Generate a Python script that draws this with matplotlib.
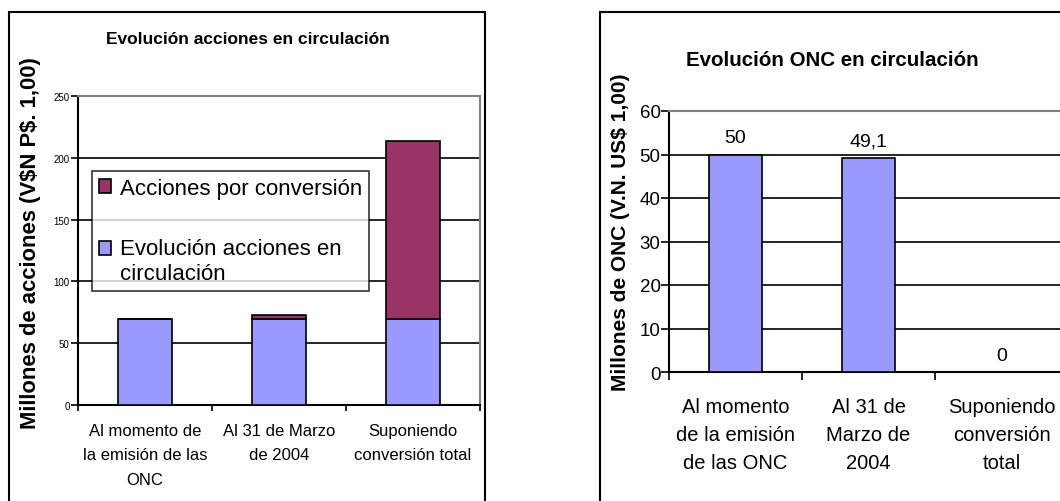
import numpy as np
import matplotlib.pyplot as plt
from matplotlib.patches import Rectangle

plt.rcParams['font.family'] = ['Liberation Sans', 'DejaVu Sans']
plt.rcParams['text.parse_math'] = False

# left chart data
categories_left = ["Al momento de\nla emisión de las\nONC", "Al 31 de Marzo\nde 2004", "Suponiendo\nconversión total"]
acciones_circ = [69.5, 69.5, 69.5]
acciones_conv = [0, 3.5, 144]

# right chart data
categories_right = ["Al momento\nde la emisión\nde las ONC", "Al 31 de\nMarzo de\n2004", "Suponiendo\nconversión\ntotal"]
onc_circ = [50, 49.1]
onc_labels = ["50", "49,1", "0"]

blue = '#9999FF'
purple = '#993366'

W, H = 1060, 502
fig = plt.figure(figsize=(W / 100, H / 100), dpi=100)

def px_axes(x0, y0, x1, y1):
    return fig.add_axes([x0 / W, 1 - y1 / H, (x1 - x0) / W, (y1 - y0) / H])

# outer chart frames
fig.patches.append(Rectangle((9 / W, -0.1), (485 - 9) / W, 1.1 - 13 / H, transform=fig.transFigure,
                             fill=False, edgecolor='black', linewidth=1.5))
fig.patches.append(Rectangle((600 / W, -0.1), 0.5, 1.1 - 13 / H, transform=fig.transFigure,
                             fill=False, edgecolor='black', linewidth=1.5))

# ---- left chart ----
ax1 = px_axes(78, 97, 480, 406)
x = np.arange(len(categories_left))
ax1.bar(x, acciones_circ, width=0.4, color=blue, edgecolor='black', linewidth=1.2,
        label="Evolución acciones en\ncirculación", zorder=3)
ax1.bar(x, acciones_conv, width=0.4, bottom=acciones_circ, color=purple, edgecolor='black',
        linewidth=1.2, label="Acciones por conversión", zorder=3)
ax1.set_xlim(-0.5, 2.5)
ax1.set_ylim(0, 250)
ax1.set_yticks([0, 50, 100, 150, 200, 250])
ax1.yaxis.grid(True, color='black', linewidth=1.2, zorder=0)
ax1.set_xticks([-0.5, 0.5, 1.5, 2.5])
ax1.set_xticklabels([])
ax1.tick_params(axis='x', direction='out', length=4, width=1.2)
ax1.tick_params(axis='y', labelsize=7, length=5, width=1.2, direction='out', pad=1)
for i, lab in enumerate(categories_left):
    ax1.text(i, -14.5, lab, ha='center', va='top', fontsize=12, linespacing=1.78)
for s in ['top', 'right']:
    ax1.spines[s].set_color('#808080')
    ax1.spines[s].set_linewidth(1.5)
for s in ['left', 'bottom']:
    ax1.spines[s].set_linewidth(1.5)
h, l = ax1.get_legend_handles_labels()
leg = ax1.legend(h[::-1], l[::-1], loc='upper left', bbox_to_anchor=(0.035, 0.757), fontsize=16,
                 frameon=True, fancybox=False, edgecolor='black', handlelength=0.55, handleheight=0.55,
                 handletextpad=0.4, labelspacing=1.75, borderpad=0.3, borderaxespad=0)
leg.get_frame().set_linewidth(1.2)
leg.set_zorder(5)
leg.get_texts()[1].set_linespacing(1.3)
# put the square beside the first line of the two-line label
hb = leg.legend_handles[1]
hb.set_y(hb.get_y() + 9.5)
fig.text(248 / W, 1 - 40 / H, "Evolución acciones en circulación", ha='center', va='center',
         fontsize=12.5, fontweight='bold')
fig.text(31 / W, 1 - 243 / H, "Millones de acciones (V$N P$. 1,00)", ha='center', va='center',
         rotation=90, fontsize=15.8, fontweight='bold')

# ---- right chart ----
ax2 = px_axes(669, 112, 1068, 373)
x2 = np.arange(len(onc_circ))
ax2.bar(x2, onc_circ, width=0.4, color=blue, edgecolor='black', linewidth=1.2, zorder=3)
vals = onc_circ + [0]
for i, (v, t) in enumerate(zip(vals, onc_labels)):
    ax2.text(i, v + 3.9, t, ha='center', va='center', fontsize=14)
ax2.set_xlim(-0.5, 2.5)
ax2.set_ylim(0, 60)
ax2.set_yticks([0, 10, 20, 30, 40, 50, 60])
ax2.yaxis.grid(True, color='black', linewidth=1.2, zorder=0)
ax2.set_xticks([-0.5, 0.5, 1.5, 2.5])
ax2.set_xticklabels([])
ax2.tick_params(axis='x', direction='out', length=6, width=1.2)
ax2.tick_params(axis='y', labelsize=13.5, length=6, width=1.2, direction='out', pad=0)
for i, lab in enumerate(categories_right):
    ax2.text(i, -5.7, lab, ha='center', va='top', fontsize=14.5, linespacing=1.62)
for s in ['top', 'right']:
    ax2.spines[s].set_color('#808080')
    ax2.spines[s].set_linewidth(1.5)
for s in ['left', 'bottom']:
    ax2.spines[s].set_linewidth(1.5)
fig.text(832 / W, 1 - 60 / H, "Evolución ONC en circulación", ha='center', va='center',
         fontsize=14.8, fontweight='bold')
fig.text(620 / W, 1 - 232 / H, "Millones de ONC (V.N. US$ 1,00)", ha='center', va='center',
         rotation=90, fontsize=15, fontweight='bold')

fig.savefig('out.png', dpi=100)
